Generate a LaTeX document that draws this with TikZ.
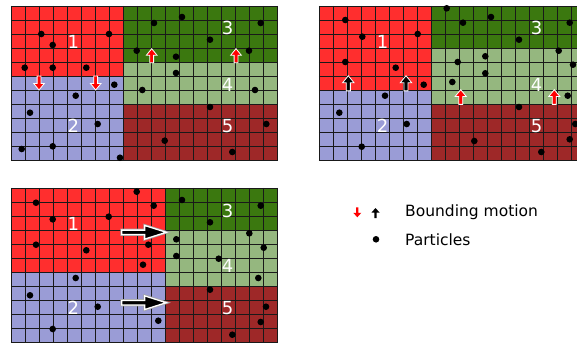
\documentclass[tikz,border=0pt]{standalone}
\usepackage{fontspec}
\setmainfont{DejaVu Sans}
\definecolor{rA}{HTML}{FF2E2E}
\definecolor{rB}{HTML}{9A9CD6}
\definecolor{rC}{HTML}{3B780F}
\definecolor{rD}{HTML}{95B77F}
\definecolor{rE}{HTML}{9E2828}
\tikzset{
  gridline/.style={black!90, line width=1.3pt},
  lbl/.style={text=white, font=\fontsize{18}{18}\selectfont, inner sep=0pt},
  legtext/.style={font=\fontsize{15.5}{16}\selectfont, anchor=base west, inner sep=0pt},
}
\newcommand\myarrow[5]{%
  \begin{scope}[shift={(#1,#2)}, rotate=#4, scale=#5]
    \filldraw[fill=#3, draw=white, line width=0.8pt, line join=miter]
      (0,-7) -- (5.3,-0.5) -- (1.9,-0.5) -- (1.9,7) -- (-1.9,7) -- (-1.9,-0.5) -- (-5.3,-0.5) -- cycle;
  \end{scope}}
\newcommand\myleg[4]{%
  \begin{scope}[shift={(#1,#2)}, rotate=#4]
    \fill[#3]
      (0,-5) -- (4,-0.5) -- (1.1,-0.5) -- (1.1,5) -- (-1.1,5) -- (-1.1,-0.5) -- (-4,-0.5) -- cycle;
  \end{scope}}
\newcommand\mybigarrow[2]{%
  \begin{scope}[shift={(#1,#2)}]
    \draw[gray!70, line width=2.8pt, line join=miter]
      (0,-2.2) -- (23,-2.2) -- (23,-6.8) -- (44.5,0) -- (23,6.8) -- (23,2.2) -- (0,2.2) -- cycle;
    \filldraw[fill=black, draw=white, line width=1.3pt, line join=miter]
      (0,-2.2) -- (23,-2.2) -- (23,-6.8) -- (44.5,0) -- (23,6.8) -- (23,2.2) -- (0,2.2) -- cycle;
  \end{scope}}
\newcommand\mygrid{%
  \foreach \i in {0,...,19} \draw[gridline] (\i,-0.05) -- (\i,11.05);
  \foreach \j in {0,...,11} \draw[gridline] (-0.05,\j) -- (19.05,\j);}
\begin{document}
\begin{tikzpicture}[x=1pt, y=-1pt]
\useasboundingbox (0,0) rectangle (577,342);
\begin{scope}
\clip (0,0) rectangle (577,342);
\fill[white] (0,0) rectangle (577,342);
% ---------- panel 1
\begin{scope}[shift={(11.5,6.5)}, x=14pt, y=-14pt]
  \fill[rA] (0,0) rectangle (8,5);
  \fill[rB] (0,5) rectangle (8,11);
  \fill[rC] (8,0) rectangle (19,4);
  \fill[rD] (8,4) rectangle (19,7);
  \fill[rE] (8,7) rectangle (19,11);
  \mygrid
\end{scope}
% ---------- panel 2
\begin{scope}[shift={(319.5,6.5)}, x=14pt, y=-14pt]
  \fill[rA] (0,0) rectangle (8,6);
  \fill[rB] (0,6) rectangle (8,11);
  \fill[rC] (8,0) rectangle (19,3);
  \fill[rD] (8,3) rectangle (19,7);
  \fill[rE] (8,7) rectangle (19,11);
  \mygrid
\end{scope}
% ---------- panel 3
\begin{scope}[shift={(11.5,188.5)}, x=14pt, y=-14pt]
  \fill[rA] (0,0) rectangle (11,6);
  \fill[rB] (0,6) rectangle (11,11);
  \fill[rC] (11,0) rectangle (19,3);
  \fill[rD] (11,3) rectangle (19,7);
  \fill[rE] (11,7) rectangle (19,11);
  \mygrid
\end{scope}
% ---------- particles
\foreach \px/\py in {
  41.3/34, 52.7/45, 109/34, 24.7/67.7, 52.7/67.7, 86.3/67.7,
  182/17, 154/23, 260.7/23, 210/39.7, 136.7/50.7, 176/56.7, 249/50.7,
  176/73, 142.3/90, 255/90, 114.3/84.7, 75.7/95.7, 30/112.7, 97.7/124,
  21.7/149, 52.7/146.3, 120/157.7, 210/107, 266.3/124, 164.7/140.7, 232.3/152,
  345.3/20, 362.3/36.7, 417.7/34, 345.3/62, 395.7/67.7, 423.7/84.7,
  446.7/8.3, 463/22.7, 491/17, 569.7/22.7, 519/39.7, 558.7/50.7,
  457.7/62, 485.3/56.3, 573/64.7, 485.3/73.3, 452.3/82, 567.7/95.7,
  385/95.7, 339.3/112.7, 406.7/124, 361.7/146.7, 519/107, 575.3/124,
  474.3/141, 569.7/139.3, 541.3/152,
  36/202.7, 52.7/219.3, 108.7/216.7, 136.7/191.7, 153.7/205.7, 36/244.7,
  86.3/250.3, 148.3/244.7, 143/264.7, 182/200, 260.7/205.7, 210/222.3,
  176.3/239.3, 249.3/233.3, 263.7/247.7, 176.3/256, 218.7/258.7, 258.3/278,
  75.7/278, 30/295.3, 97.7/306.7, 158.3/320.7, 52.7/329, 210/289.7,
  266/306.7, 260.7/322, 232.3/334.7}
  \fill[black] (\px,\py) circle[radius=3.3pt];
% ---------- labels
\foreach \n/\lx/\ly/\name in {
  1/73.3/41.7/a1, 2/73.3/126/a2, 3/227.7/28.3/a3, 4/227.7/85/a4, 5/227.7/126/a5,
  1/382.7/41.7/b1, 2/382.7/126/b2, 3/536.7/28.3/b3, 4/536.7/85/b4, 5/536.7/126/b5,
  1/73.3/224/c1, 2/73.3/308/c2, 3/227.7/210.7/c3, 4/227.7/266/c4, 5/227.7/308/c5}
  \node[lbl] (\name) at (\lx,\ly) {\n};
% ---------- bounding motion arrows
\myarrow{39}{83}{red}{180}{1}
\myarrow{95.7}{83}{red}{180}{1}
\myarrow{151.7}{55.7}{red}{0}{1}
\myarrow{236}{55.7}{red}{0}{1}
\myarrow{348.3}{83.3}{black}{0}{1.08}
\myarrow{406}{83.3}{black}{0}{1.08}
\myarrow{460.7}{97}{red}{0}{1.05}
\myarrow{554.3}{97}{red}{0}{1.05}
% ---------- transfer arrows
\mybigarrow{121.7}{232.3}
\mybigarrow{121.7}{302.7}
\end{scope}
% ---------- legend
\myleg{357.3}{212.3}{red}{180}
\myleg{375.5}{213}{black}{0}
\fill[black] (376,239.3) circle[radius=3.3pt];
\node[legtext] (leg1) at (405,216.7) {Bounding motion};
\node[legtext] (leg2) at (405,245) {Particles};
\end{tikzpicture}
\end{document}
